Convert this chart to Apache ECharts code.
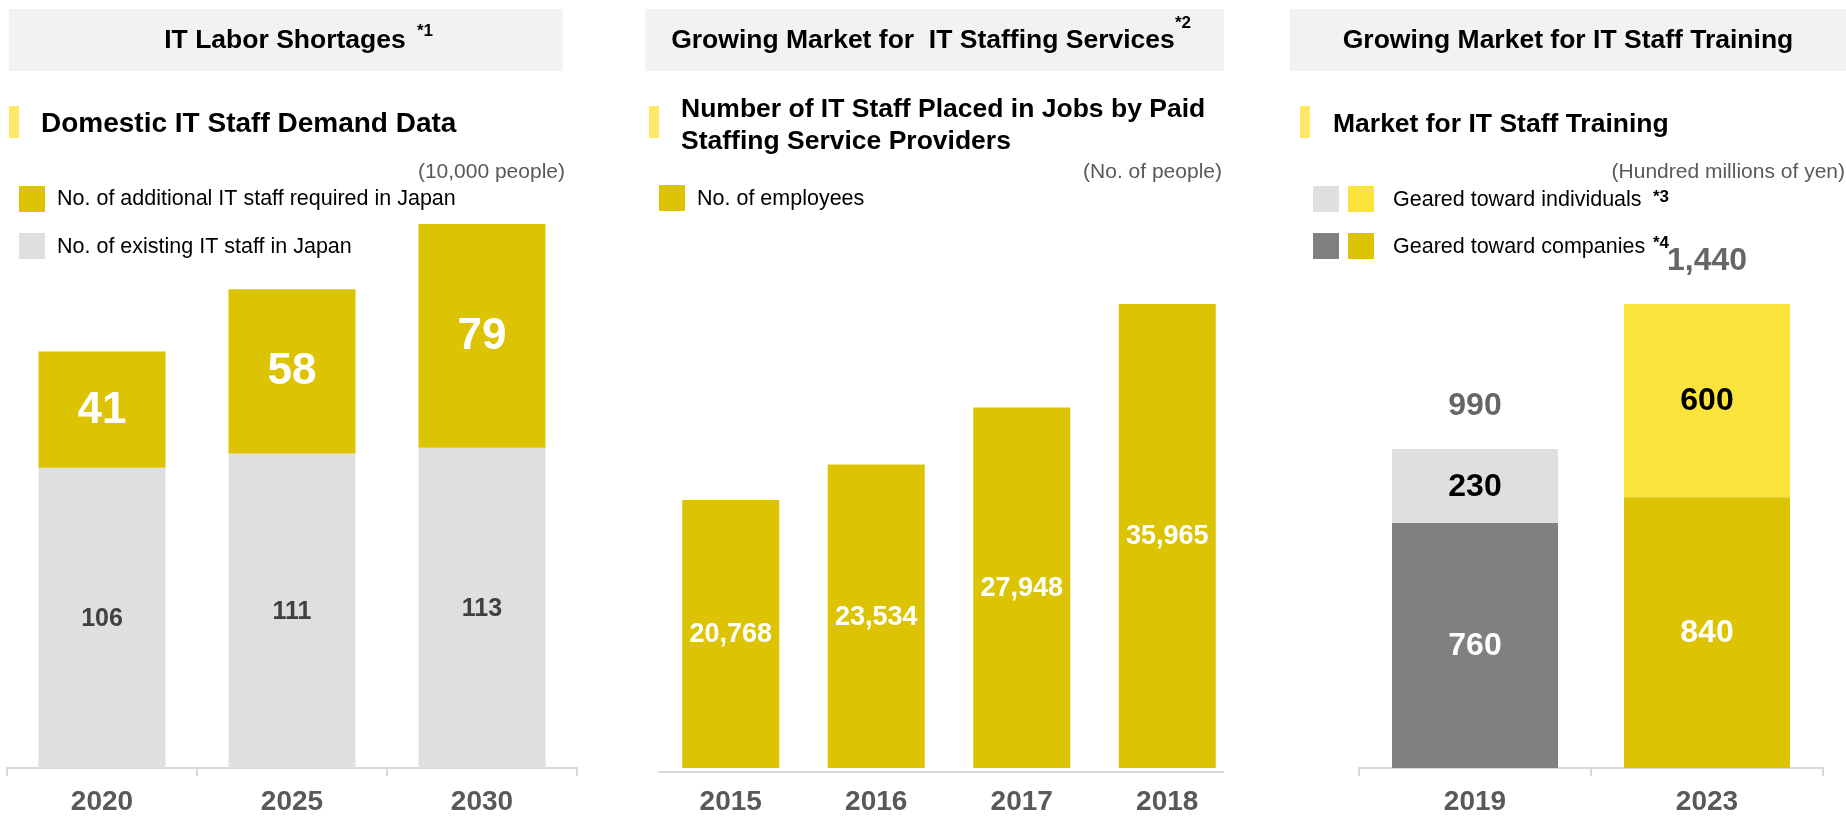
<!DOCTYPE html>
<html>
<head>
<meta charset="utf-8">
<title>IT Staff Market</title>
<script src="https://cdn.jsdelivr.net/npm/echarts@6/dist/echarts.min.js"></script>
<style>
  html, body { margin: 0; padding: 0; background: #ffffff; }
  #chart { width: 1846px; height: 816px; }
</style>
</head>
<body>
<div id="chart"></div>
<script>
// ---- Panel 1: domestic IT staff demand (10,000 people)
const laborYears = ['2020', '2025', '2030'];
const existingStaff = [106, 111, 113];
const additionalStaff = [41, 58, 79];

// ---- Panel 2: IT staff placed by paid staffing service providers (people)
const staffingYears = ['2015', '2016', '2017', '2018'];
const placedStaff = [20768, 23534, 27948, 35965];

// ---- Panel 3: IT staff training market (hundred millions of yen)
const trainingYears = ['2019', '2023'];
const trainingCompanies = [760, 840];
const trainingIndividuals = [230, 600];

const FONT = '"Liberation Sans", Arial, Helvetica, sans-serif';
const YELLOW = '#DCC404';
const YELLOW_LIGHT = '#FAE33A';
const GRAY_LIGHT = '#DFDFDF';
const GRAY_DARK = '#808080';
const ACCENT = '#FFE866';
const HEADER_BG = '#F2F2F2';
const AXIS_COLOR = '#D9D9D9';

const fmt = v => Number(v).toLocaleString('en-US');
const trainingTotals = trainingCompanies.map((v, i) => v + trainingIndividuals[i]);

// colours per year in the training panel: 2019 in greys, 2023 in yellows
const companyColors = [GRAY_DARK, YELLOW];
const individualColors = [GRAY_LIGHT, YELLOW_LIGHT];

function rect(x, y, w, h, fill) {
  return { type: 'rect', silent: true, shape: { x: x, y: y, width: w, height: h }, style: { fill: fill } };
}
function text(str, x, y, opts) {
  opts = opts || {};
  return {
    type: 'text', silent: true, x: x, y: y,
    style: {
      text: str,
      fontFamily: FONT,
      fontSize: opts.size || 20,
      fontWeight: opts.weight || 'normal',
      fill: opts.color || '#000000',
      textAlign: opts.align || 'left',
      textVerticalAlign: opts.valign || 'middle'
    }
  };
}

const graphics = [
  // panel headers
  rect(9, 9, 554, 62, HEADER_BG),
  rect(645, 9, 579, 62, HEADER_BG),
  rect(1290, 9, 556, 62, HEADER_BG),
  text('IT Labor Shortages', 285, 41, { size: 26.5, weight: 'bold', align: 'center' }),
  text('*1', 417, 31, { size: 17, weight: 'bold' }),
  text('Growing Market for  IT Staffing Services', 923, 41, { size: 26.5, weight: 'bold', align: 'center' }),
  text('*2', 1175, 23, { size: 17, weight: 'bold' }),
  text('Growing Market for IT Staff Training', 1568, 41, { size: 26.5, weight: 'bold', align: 'center' }),

  // section subtitles with accent bars
  rect(9, 106, 10, 32, ACCENT),
  text('Domestic IT Staff Demand Data', 41, 124, { size: 28, weight: 'bold' }),
  rect(649, 106, 10, 32, ACCENT),
  text('Number of IT Staff Placed in Jobs by Paid', 681, 110, { size: 26.5, weight: 'bold' }),
  text('Staffing Service Providers', 681, 142, { size: 26.5, weight: 'bold' }),
  rect(1300, 106, 10, 32, ACCENT),
  text('Market for IT Staff Training', 1333, 125, { size: 26.5, weight: 'bold' }),

  // units
  text('(10,000 people)', 565, 172, { size: 21, color: '#595959', align: 'right' }),
  text('(No. of people)', 1222, 172, { size: 21, color: '#595959', align: 'right' }),
  text('(Hundred millions of yen)', 1845, 172, { size: 21, color: '#595959', align: 'right' }),

  // legend: panel 1
  rect(19, 186, 26, 26, YELLOW),
  text('No. of additional IT staff required in Japan', 57, 199, { size: 21.5 }),
  rect(19, 233, 26, 26, GRAY_LIGHT),
  text('No. of existing IT staff in Japan', 57, 247, { size: 21.5 }),

  // legend: panel 2
  rect(659, 185, 26, 26, YELLOW),
  text('No. of employees', 697, 199, { size: 21.5 }),

  // legend: panel 3
  rect(1313, 186, 26, 26, GRAY_LIGHT),
  rect(1348, 186, 26, 26, YELLOW_LIGHT),
  text('Geared toward individuals', 1393, 200, { size: 21.5 }),
  text('*3', 1653, 197, { size: 17, weight: 'bold' }),
  rect(1313, 233, 26, 26, GRAY_DARK),
  rect(1348, 233, 26, 26, YELLOW),
  text('Geared toward companies', 1393, 247, { size: 21.5 }),
  text('*4', 1653, 243, { size: 17, weight: 'bold' }),

  // baseline under the staffing panel
  { type: 'line', silent: true, shape: { x1: 658, y1: 772, x2: 1224, y2: 772 },
    style: { stroke: AXIS_COLOR, lineWidth: 2 } }
];

function catAxis(gridIndex, data, showLine) {
  return {
    type: 'category', gridIndex: gridIndex, data: data,
    axisLine: { show: showLine, lineStyle: { color: AXIS_COLOR, width: 2 } },
    axisTick: { show: showLine, length: 8, lineStyle: { color: AXIS_COLOR, width: 2 } },
    axisLabel: { color: '#595959', fontFamily: FONT, fontSize: 28, fontWeight: 'bold', margin: 20 }
  };
}
function valAxis(gridIndex) {
  return {
    type: 'value', gridIndex: gridIndex, min: 0, max: 'dataMax',
    axisLine: { show: false }, axisTick: { show: false },
    axisLabel: { show: false }, splitLine: { show: false }
  };
}

const option = {
  animation: false,
  backgroundColor: '#ffffff',
  textStyle: { fontFamily: FONT },
  graphic: graphics,
  grid: [
    { left: 7, width: 570, top: 224, bottom: 44 },
    { left: 658, width: 582, top: 304, bottom: 44 },
    { left: 1359, width: 464, top: 304, bottom: 43 }
  ],
  xAxis: [
    catAxis(0, laborYears, true),
    catAxis(1, staffingYears, false),
    catAxis(2, trainingYears, true)
  ],
  yAxis: [valAxis(0), valAxis(1), valAxis(2)],
  series: [
    {
      name: 'No. of existing IT staff in Japan', type: 'bar', stack: 'labor',
      xAxisIndex: 0, yAxisIndex: 0, barWidth: 127,
      data: existingStaff,
      itemStyle: { color: GRAY_LIGHT },
      label: { show: true, position: 'inside', offset: [0, 1], color: '#404040', fontSize: 25, fontWeight: 'bold' }
    },
    {
      name: 'No. of additional IT staff required in Japan', type: 'bar', stack: 'labor',
      xAxisIndex: 0, yAxisIndex: 0, barWidth: 127,
      data: additionalStaff,
      itemStyle: { color: YELLOW },
      label: { show: true, position: 'inside', offset: [0, 1], color: '#ffffff', fontSize: 44, fontWeight: 'bold' }
    },
    {
      name: 'No. of employees', type: 'bar',
      xAxisIndex: 1, yAxisIndex: 1, barWidth: 97,
      data: placedStaff,
      itemStyle: { color: YELLOW },
      label: { show: true, position: 'inside', offset: [0, 1], color: '#ffffff', fontSize: 27, fontWeight: 'bold',
               formatter: p => fmt(p.value) }
    },
    {
      name: 'Geared toward companies', type: 'bar', stack: 'training',
      xAxisIndex: 2, yAxisIndex: 2, barWidth: 166,
      data: trainingCompanies.map((v, i) => ({ value: v, itemStyle: { color: companyColors[i] } })),
      label: { show: true, position: 'inside', offset: [0, 1], color: '#ffffff', fontSize: 32, fontWeight: 'bold' }
    },
    {
      name: 'Geared toward individuals', type: 'bar', stack: 'training',
      xAxisIndex: 2, yAxisIndex: 2, barWidth: 166,
      data: trainingIndividuals.map((v, i) => ({ value: v, itemStyle: { color: individualColors[i] } })),
      label: { show: true, position: 'inside', offset: [0, 1], color: '#000000', fontSize: 32, fontWeight: 'bold' }
    },
    {
      name: 'Total', type: 'scatter',
      xAxisIndex: 2, yAxisIndex: 2, symbolSize: 0,
      data: trainingTotals,
      label: { show: true, position: 'top', distance: 27, color: '#404040', fontSize: 32, fontWeight: 'bold',
               formatter: p => fmt(p.value) }
    }
  ]
};

const chart = echarts.init(document.getElementById('chart'), null, { renderer: 'canvas' });
chart.setOption(option);
</script>
</body>
</html>
